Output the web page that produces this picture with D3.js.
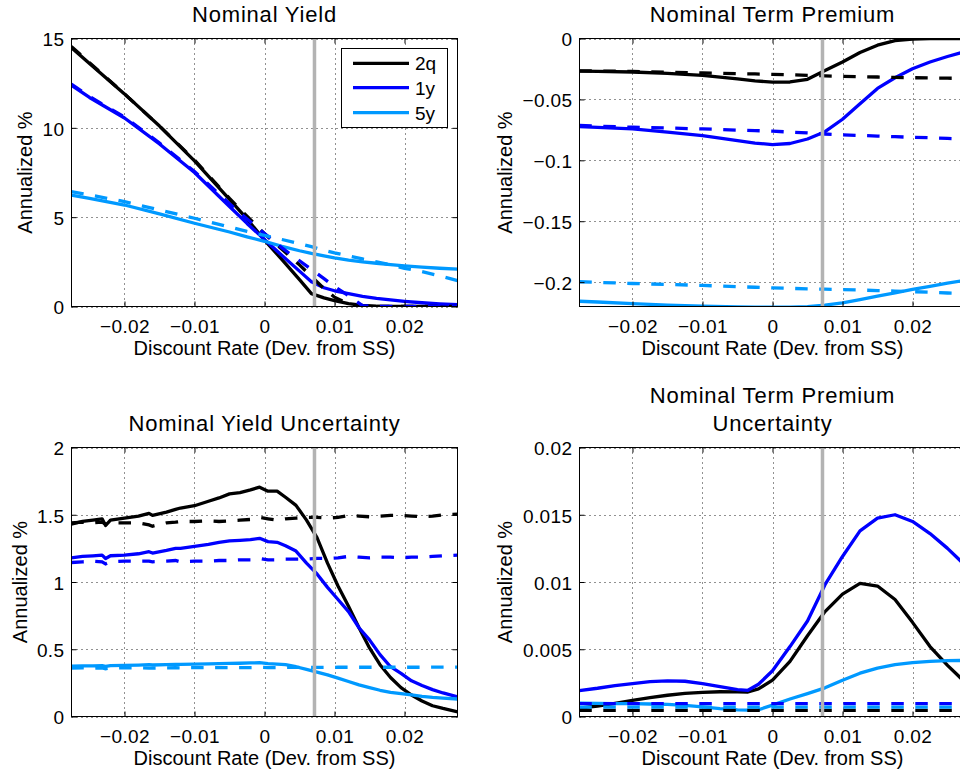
<!DOCTYPE html>
<html><head><meta charset="utf-8">
<script src="https://cdn.jsdelivr.net/npm/d3@7"></script>
<style>
body{margin:0;background:#fff}
svg{display:block}
text{font-family:"Liberation Sans",Arial,Helvetica,sans-serif;fill:#000}
</style>
</head><body>
<svg id="chart" width="960" height="772"></svg>
<script>
// ---------------- data ----------------
const seriesNames = ["2q", "1y", "5y"];
const seriesColors = ["#000000", "#0000ff", "#0099ff"];
const xDomain = [-0.02757, 0.02757];
const xTicks = [-0.02, -0.01, 0, 0.01, 0.02];
const xTickLabels = ["\u22120.02", "\u22120.01", "0", "0.01", "0.02"];
const markerX = 0.00714;

// Nominal Yield
const nyX = [-0.0276, -0.025, -0.02, -0.015, -0.01, -0.005, -0.0025, 0, 0.0025, 0.005, 0.0067, 0.0085, 0.01, 0.012, 0.014, 0.016, 0.018, 0.02, 0.0225, 0.025, 0.0276];
const ny2q = [14.5, 13.6, 11.9, 10.1, 8.15, 6.0, 4.9, 3.72, 2.62, 1.5, 0.72, 0.48, 0.33, 0.16, 0.06, 0.02, 0.005, 0, 0, 0, 0];
const ny1y = [12.39, 11.7, 10.55, 9.1, 7.5, 5.6, 4.65, 3.75, 2.85, 1.98, 1.38, 1.05, 0.88, 0.72, 0.57, 0.46, 0.37, 0.29, 0.21, 0.15, 0.1];
const ny5y = [6.24, 6.05, 5.68, 5.18, 4.66, 4.17, 3.9, 3.65, 3.37, 3.12, 2.97, 2.83, 2.72, 2.6, 2.5, 2.42, 2.34, 2.27, 2.2, 2.14, 2.09];
const ny2qDash = [14.55, 13.65, 11.9, 10.1, 8.2, 6.05, 5.05, 4.07, 3.2, 2.33, 1.68, 1.0, 0.52, 0.15, 0.02, 0, 0, 0, 0, 0, 0];
const ny1yDash = [12.45, 11.75, 10.6, 9.15, 7.55, 5.75, 4.9, 4.08, 3.28, 2.56, 2.07, 1.56, 1.12, 0.6, 0.05, 0, 0, 0, 0, 0, 0];
const ny5yDash = [6.43, 6.25, 5.87, 5.4, 4.94, 4.45, 4.2, 3.98, 3.75, 3.52, 3.35, 3.15, 3.0, 2.83, 2.66, 2.5, 2.33, 2.14, 1.95, 1.72, 1.45];
const nyYTicks = [0, 5, 10, 15];
const nyYTickLabels = ["0", "5", "10", "15"];

// Nominal Term Premium
const tpX = [-0.0276, -0.025, -0.02, -0.015, -0.01, -0.005, -0.0025, 0, 0.0025, 0.005, 0.0075, 0.01, 0.0125, 0.015, 0.0175, 0.02, 0.0225, 0.025, 0.0276];
const tp2q = [-0.0267, -0.027, -0.0275, -0.0287, -0.0302, -0.0332, -0.0348, -0.0358, -0.0357, -0.0335, -0.0262, -0.0193, -0.0115, -0.0055, -0.0018, -0.0005, -0.0001, 0, 0];
const tp1y = [-0.0723, -0.073, -0.0742, -0.0768, -0.0797, -0.0838, -0.0858, -0.0871, -0.0862, -0.0825, -0.0765, -0.0663, -0.0535, -0.041, -0.0322, -0.0248, -0.0193, -0.0148, -0.0105];
const tp5y = [-0.2157, -0.2163, -0.2176, -0.2188, -0.2198, -0.2203, -0.2205, -0.2206, -0.2206, -0.2202, -0.2188, -0.217, -0.2143, -0.2115, -0.2088, -0.206, -0.2035, -0.2008, -0.1985];
const tp2qDash = [-0.0265, -0.0267, -0.027, -0.0276, -0.0283, -0.0289, -0.0291, -0.0294, -0.0298, -0.0302, -0.0307, -0.031, -0.0313, -0.0316, -0.0319, -0.0322, -0.0324, -0.0326, -0.0328];
const tp1yDash = [-0.0714, -0.072, -0.0728, -0.0735, -0.0742, -0.0752, -0.0756, -0.0761, -0.0768, -0.0775, -0.0784, -0.0791, -0.0796, -0.0801, -0.0806, -0.0811, -0.0815, -0.082, -0.0825];
const tp5yDash = [-0.1997, -0.2002, -0.2011, -0.2019, -0.2027, -0.2037, -0.2042, -0.2047, -0.2051, -0.2055, -0.2058, -0.2061, -0.2065, -0.2069, -0.2073, -0.2078, -0.2083, -0.2089, -0.2093];
const tpYTicks = [-0.2, -0.15, -0.1, -0.05, 0];
const tpYTickLabels = ["\u22120.2", "\u22120.15", "\u22120.1", "\u22120.05", "0"];

// Nominal Yield Uncertainty
const nyuX = [-0.0276, -0.026, -0.0245, -0.0232, -0.0227, -0.022, -0.02, -0.018, -0.0165, -0.016, -0.014, -0.0127, -0.012, -0.01, -0.008, -0.0065, -0.005, -0.0035, -0.002, -0.0007, 0.0005, 0.0018, 0.003, 0.0045, 0.006, 0.0075, 0.009, 0.0105, 0.012, 0.0135, 0.015, 0.0165, 0.018, 0.0195, 0.021, 0.0225, 0.024, 0.0255, 0.0276];
const nyu2q = [1.43, 1.45, 1.46, 1.47, 1.42, 1.46, 1.475, 1.49, 1.51, 1.495, 1.52, 1.54, 1.55, 1.567, 1.6, 1.625, 1.655, 1.665, 1.685, 1.705, 1.675, 1.675, 1.63, 1.57, 1.46, 1.33, 1.14, 0.97, 0.82, 0.66, 0.51, 0.385, 0.29, 0.215, 0.16, 0.115, 0.08, 0.06, 0.035];
const nyu1y = [1.18, 1.19, 1.195, 1.2, 1.175, 1.195, 1.2, 1.21, 1.225, 1.215, 1.235, 1.25, 1.25, 1.265, 1.28, 1.295, 1.305, 1.31, 1.315, 1.325, 1.3, 1.295, 1.27, 1.23, 1.14, 1.06, 0.96, 0.87, 0.78, 0.66, 0.57, 0.46, 0.37, 0.32, 0.265, 0.23, 0.2, 0.175, 0.145];
const nyu5y = [0.375, 0.376, 0.377, 0.378, 0.372, 0.378, 0.38, 0.382, 0.385, 0.383, 0.386, 0.388, 0.388, 0.39, 0.392, 0.393, 0.395, 0.396, 0.398, 0.4, 0.393, 0.39, 0.385, 0.37, 0.35, 0.33, 0.31, 0.285, 0.26, 0.235, 0.215, 0.195, 0.18, 0.17, 0.16, 0.15, 0.142, 0.137, 0.13];
const nyu2qDash = [1.44, 1.445, 1.44, 1.445, 1.43, 1.44, 1.44, 1.44, 1.425, 1.415, 1.44, 1.445, 1.45, 1.45, 1.455, 1.45, 1.455, 1.46, 1.465, 1.48, 1.47, 1.46, 1.47, 1.475, 1.48, 1.48, 1.475, 1.48, 1.495, 1.49, 1.485, 1.49, 1.495, 1.495, 1.49, 1.485, 1.49, 1.5, 1.505];
const nyu1yDash = [1.145, 1.15, 1.155, 1.15, 1.135, 1.15, 1.155, 1.155, 1.155, 1.15, 1.155, 1.16, 1.15, 1.155, 1.155, 1.16, 1.16, 1.165, 1.165, 1.175, 1.165, 1.165, 1.17, 1.17, 1.17, 1.175, 1.175, 1.18, 1.19, 1.185, 1.18, 1.185, 1.185, 1.18, 1.185, 1.185, 1.19, 1.195, 1.2];
const nyu5yDash = [0.36, 0.362, 0.36, 0.362, 0.355, 0.36, 0.362, 0.362, 0.36, 0.36, 0.362, 0.363, 0.362, 0.363, 0.363, 0.363, 0.364, 0.364, 0.364, 0.365, 0.364, 0.364, 0.365, 0.365, 0.365, 0.365, 0.365, 0.366, 0.366, 0.366, 0.366, 0.366, 0.366, 0.366, 0.366, 0.366, 0.367, 0.367, 0.367];
const nyuYTicks = [0, 0.5, 1, 1.5, 2];
const nyuYTickLabels = ["0", "0.5", "1", "1.5", "2"];

// Nominal Term Premium Uncertainty
const tpuX = [-0.0276, -0.025, -0.0225, -0.02, -0.0175, -0.015, -0.0125, -0.01, -0.0075, -0.005, -0.0035, -0.002, 0, 0.0025, 0.005, 0.0075, 0.01, 0.0125, 0.015, 0.0175, 0.02, 0.0225, 0.025, 0.0276];
const tpu2q = [0.00062, 0.00078, 0.00098, 0.0012, 0.0014, 0.00158, 0.00172, 0.0018, 0.00184, 0.00183, 0.00182, 0.00205, 0.0027, 0.0041, 0.006, 0.0078, 0.0091, 0.0099, 0.0097, 0.0087, 0.007, 0.0052, 0.0038, 0.0025];
const tpu1y = [0.00193, 0.0021, 0.0023, 0.00245, 0.0026, 0.00265, 0.00262, 0.00245, 0.00222, 0.002, 0.00195, 0.0024, 0.0034, 0.0052, 0.0071, 0.0098, 0.0119, 0.0138, 0.01475, 0.015, 0.0145, 0.0136, 0.0125, 0.0112];
const tpu5y = [0.001, 0.00098, 0.00096, 0.00095, 0.00093, 0.0009, 0.00083, 0.00072, 0.00058, 0.0005, 0.00048, 0.0005, 0.00085, 0.0013, 0.0017, 0.00213, 0.0027, 0.00322, 0.0036, 0.00385, 0.004, 0.0041, 0.00415, 0.00417];
const tpuDashX = [-0.0276, -0.01, 0, 0.01, 0.0276];
const tpu2qDash = [0.00045, 0.00045, 0.00045, 0.00045, 0.00045];
const tpu1yDash = [0.00095, 0.00095, 0.00095, 0.00095, 0.00095];
const tpu5yDash = [0.0007, 0.0007, 0.0007, 0.0007, 0.0007];
const tpuYTicks = [0, 0.005, 0.01, 0.015, 0.02];
const tpuYTickLabels = ["0", "0.005", "0.01", "0.015", "0.02"];

// ---------------- panels ----------------
const zip = (xs, ys) => xs.map((v, i) => [v, ys[i]]);
const panels = [
  { id: "ny", title: ["Nominal Yield"], yDomain: [0, 15], yTicks: nyYTicks, yTickLabels: nyYTickLabels,
    solid: [zip(nyX, ny2q), zip(nyX, ny1y), zip(nyX, ny5y)],
    dashed: [zip(nyX, ny2qDash), zip(nyX, ny1yDash), zip(nyX, ny5yDash)],
    box: { x0: 71.5, x1: 457.5, y0: 38.5, y1: 306.5 }, titleY: [21.7], ylabX: 31.7, legend: true },
  { id: "tp", title: ["Nominal Term Premium"], yDomain: [-0.22, 0], yTicks: tpYTicks, yTickLabels: tpYTickLabels,
    solid: [zip(tpX, tp2q), zip(tpX, tp1y), zip(tpX, tp5y)],
    dashed: [zip(tpX, tp2qDash), zip(tpX, tp1yDash), zip(tpX, tp5yDash)],
    box: { x0: 579.5, x1: 965.5, y0: 38.5, y1: 306.5 }, titleY: [21.7], ylabX: 511.7, legend: false },
  { id: "nyu", title: ["Nominal Yield Uncertainty"], yDomain: [0, 2], yTicks: nyuYTicks, yTickLabels: nyuYTickLabels,
    solid: [zip(nyuX, nyu2q), zip(nyuX, nyu1y), zip(nyuX, nyu5y)],
    dashed: [zip(nyuX, nyu2qDash), zip(nyuX, nyu1yDash), zip(nyuX, nyu5yDash)],
    box: { x0: 71.5, x1: 457.5, y0: 447.5, y1: 716.5 }, titleY: [431], ylabX: 26.7, legend: false },
  { id: "tpu", title: ["Nominal Term Premium", "Uncertainty"], yDomain: [0, 0.02], yTicks: tpuYTicks, yTickLabels: tpuYTickLabels,
    solid: [zip(tpuX, tpu2q), zip(tpuX, tpu1y), zip(tpuX, tpu5y)],
    dashed: [zip(tpuDashX, tpu2qDash), zip(tpuDashX, tpu1yDash), zip(tpuDashX, tpu5yDash)],
    box: { x0: 579.5, x1: 965.5, y0: 447.5, y1: 716.5 }, titleY: [402.7, 431], ylabX: 511.7, legend: false }
];

const svg = d3.select("#chart");
const FONT = '"Liberation Sans", Arial, Helvetica, sans-serif';

function styleAxis(g, size) {
  g.attr("font-size", size).attr("font-family", FONT);
  g.select(".domain").remove();
  g.selectAll(".tick line").attr("stroke", "#000").attr("stroke-width", 1);
  g.selectAll("text").attr("letter-spacing", "0.4px");
}

panels.forEach(p => {
  const b = p.box;
  const x = d3.scaleLinear().domain(xDomain).range([b.x0, b.x1]);
  const y = d3.scaleLinear().domain(p.yDomain).range([b.y1, b.y0]);
  const g = svg.append("g").attr("class", "panel-" + p.id);

  g.append("clipPath").attr("id", "clip-" + p.id)
    .append("rect").attr("x", b.x0).attr("y", b.y0).attr("width", b.x1 - b.x0).attr("height", b.y1 - b.y0);

  // grid
  const grid = g.append("g").attr("stroke", "#222").attr("stroke-width", 1).attr("stroke-dasharray", "1,4");
  grid.selectAll(".gx").data(xTicks).join("line")
    .attr("x1", d => Math.round(x(d)) + 0.5).attr("x2", d => Math.round(x(d)) + 0.5)
    .attr("y1", b.y0).attr("y2", b.y1);
  grid.selectAll(".gy").data(p.yTicks).join("line")
    .attr("y1", d => Math.round(y(d)) + 0.5).attr("y2", d => Math.round(y(d)) + 0.5)
    .attr("x1", b.x0).attr("x2", b.x1);

  const line = d3.line().x(d => x(d[0])).y(d => y(d[1]));
  const plot = g.append("g").attr("clip-path", `url(#clip-${p.id})`);
  p.solid.forEach((s, i) => {
    plot.append("path").datum(s).attr("d", line).attr("fill", "none")
      .attr("stroke", seriesColors[i]).attr("stroke-width", 3.3).attr("stroke-linejoin", "round");
  });
  p.dashed.forEach((s, i) => {
    plot.append("path").datum(s).attr("d", line).attr("fill", "none")
      .attr("stroke", seriesColors[i]).attr("stroke-width", 3.3).attr("stroke-dasharray", "12.5,11.5");
  });
  // steady-state marker
  plot.append("line").attr("x1", x(markerX)).attr("x2", x(markerX)).attr("y1", b.y0).attr("y2", b.y1)
    .attr("stroke", "#b3b3b3").attr("stroke-width", 3.5);

  // axes
  const axB = g.append("g").attr("transform", `translate(0,${b.y1})`)
    .call(d3.axisBottom(x).tickValues(xTicks).tickFormat((d, i) => xTickLabels[i]).tickSizeInner(-5).tickSizeOuter(0).tickPadding(13.2));
  styleAxis(axB, 19);
  const axT = g.append("g").attr("transform", `translate(0,${b.y0})`)
    .call(d3.axisTop(x).tickValues(xTicks).tickFormat("").tickSizeInner(-5).tickSizeOuter(0));
  styleAxis(axT, 19);
  const axL = g.append("g").attr("transform", `translate(${b.x0},0)`)
    .call(d3.axisLeft(y).tickValues(p.yTicks).tickFormat((d, i) => p.yTickLabels[i]).tickSizeInner(-5).tickSizeOuter(0).tickPadding(7));
  styleAxis(axL, 19);
  axL.selectAll("text").attr("dy", "0.39em");
  const axR = g.append("g").attr("transform", `translate(${b.x1},0)`)
    .call(d3.axisRight(y).tickValues(p.yTicks).tickFormat("").tickSizeInner(-5).tickSizeOuter(0));
  styleAxis(axR, 19);

  g.append("rect").attr("x", b.x0).attr("y", b.y0).attr("width", b.x1 - b.x0).attr("height", b.y1 - b.y0)
    .attr("fill", "none").attr("stroke", "#000").attr("stroke-width", 1);

  // titles & labels
  const cx = (b.x0 + b.x1) / 2;
  p.title.forEach((t, i) => {
    g.append("text").attr("x", cx).attr("y", p.titleY[i]).attr("text-anchor", "middle")
      .attr("font-size", 22).attr("letter-spacing", "0.8px").text(t);
  });
  g.append("text").attr("x", cx).attr("y", b.y1 + 48.5).attr("text-anchor", "middle")
    .attr("font-size", 20).text("Discount Rate (Dev. from SS)");
  g.append("text").attr("transform", `translate(${p.ylabX},${(b.y0 + b.y1) / 2}) rotate(-90)`)
    .attr("text-anchor", "middle").attr("font-size", 20).text("Annualized %");

  if (p.legend) {
    const lg = g.append("g");
    lg.append("rect").attr("x", 341.5).attr("y", 48.5).attr("width", 106).attr("height", 79)
      .attr("fill", "#fff").attr("stroke", "#000").attr("stroke-width", 1);
    const ly = [63.3, 87.7, 112.7];
    seriesNames.forEach((n, i) => {
      lg.append("line").attr("x1", 353).attr("x2", 409).attr("y1", ly[i]).attr("y2", ly[i])
        .attr("stroke", seriesColors[i]).attr("stroke-width", 3.3);
      lg.append("text").attr("x", 415).attr("y", ly[i] + 7).attr("font-size", 19).text(n);
    });
  }
});
</script>
</body></html>
